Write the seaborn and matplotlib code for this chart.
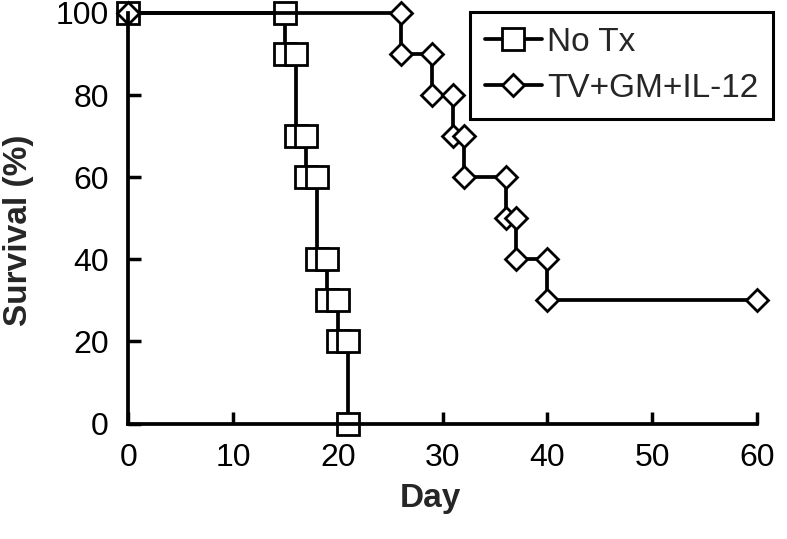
import pandas as pd
import matplotlib
matplotlib.use("Agg")
import matplotlib.pyplot as plt
import seaborn as sns

# survival curves: day of each step and % surviving after it
notx_days = [0, 15, 16, 17, 18, 19, 20, 21]
notx_surv = [100, 90, 70, 60, 40, 30, 20, 0]
tv_days = [0, 26, 29, 31, 32, 36, 37, 40]
tv_surv = [100, 90, 80, 70, 60, 50, 40, 30]
tv_last_day = 60

groups = ["No Tx", "TV+GM+IL-12"]
x_ticks = [0, 10, 20, 30, 40, 50, 60]
y_ticks = [0, 20, 40, 60, 80, 100]


def step_points(days, surv, end_day=None):
    # Kaplan-Meier style staircase: every drop gets a corner at both levels
    xs, ys = [days[0]], [surv[0]]
    for i in range(1, len(days)):
        xs += [days[i], days[i]]
        ys += [surv[i - 1], surv[i]]
    if end_day is not None:
        xs.append(end_day)
        ys.append(surv[-1])
    return pd.DataFrame({"Day": xs, "Survival": ys})


notx = step_points(notx_days, notx_surv)
tv = step_points(tv_days, tv_surv, tv_last_day)

sns.set_style("ticks")
plt.rcParams["font.family"] = ["Liberation Sans", "DejaVu Sans"]

fig = plt.figure(figsize=(7.87, 5.39), dpi=100)
ax = fig.add_axes([128.3 / 787, 115.5 / 539, (757 - 128.3) / 787, (423.5 - 13) / 539])

sns.lineplot(data=notx, x="Day", y="Survival", sort=False, estimator=None,
             color="black", lw=2.7, marker="s", ms=16, mfc="white", mec="black",
             mew=2.0, clip_on=False, label=groups[0], ax=ax)
sns.lineplot(data=tv, x="Day", y="Survival", sort=False, estimator=None,
             color="black", lw=2.7, marker="D", ms=11.5, mfc="white", mec="black",
             mew=2.0, clip_on=False, label=groups[1], ax=ax)

ax.set_xlim(0, 60)
ax.set_ylim(0, 100)
ax.set_xticks(x_ticks)
ax.set_yticks(y_ticks)
ax.tick_params(direction="in", length=9, width=2.5, labelsize=23, pad=14,
               colors="black")
sns.despine(ax=ax)
for side in ["left", "bottom"]:
    ax.spines[side].set_linewidth(2.7)
    ax.spines[side].set_color("black")

ax.set_xlabel("Day", fontsize=24, fontweight="bold")
ax.set_ylabel("Survival (%)", fontsize=24, fontweight="bold")
ax.xaxis.set_label_coords(0.48, -0.145)
ax.yaxis.set_label_coords(-0.15, 0.47)

leg = ax.legend(loc="upper right", bbox_to_anchor=(773 / 787, 1 - 12 / 539),
                bbox_transform=fig.transFigure, borderaxespad=0, fontsize=24,
                handlelength=1.7, handletextpad=0.15, labelspacing=0.45,
                borderpad=0.45, fancybox=False, framealpha=1, edgecolor="black")
leg.get_frame().set_linewidth(2.2)

fig.savefig("out.png", dpi=100)
